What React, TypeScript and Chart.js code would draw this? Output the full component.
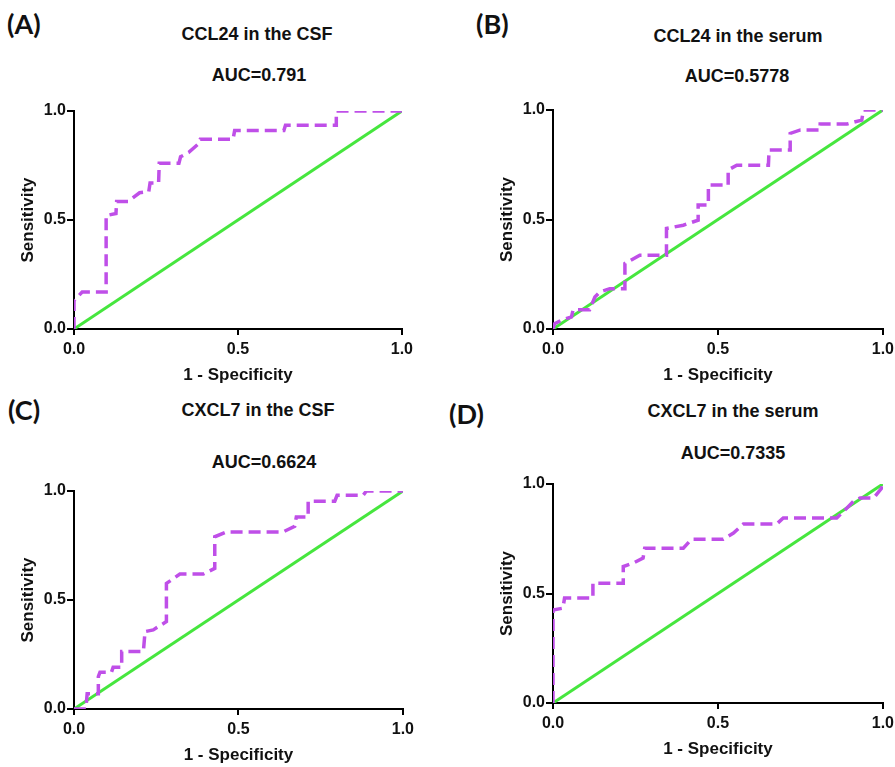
import React, { useEffect, useRef } from "react";
import { Chart, registerables } from "chart.js";

Chart.register(...registerables);

// ---- Data (1 - Specificity, Sensitivity) ----
const ccl24CsfFpr = [0, 0, 0.025, 0.098, 0.098, 0.128, 0.13, 0.165, 0.2, 0.228, 0.232, 0.258, 0.26, 0.32, 0.325, 0.35, 0.38, 0.385, 0.485, 0.49, 0.64, 0.645, 0.8, 0.8, 1];
const ccl24CsfTpr = [0, 0.13, 0.17, 0.17, 0.52, 0.53, 0.585, 0.585, 0.625, 0.63, 0.67, 0.67, 0.76, 0.76, 0.79, 0.81, 0.85, 0.87, 0.87, 0.91, 0.91, 0.935, 0.935, 1, 1];

const ccl24SerumFpr = [0, 0.005, 0.025, 0.056, 0.061, 0.111, 0.127, 0.142, 0.172, 0.218, 0.218, 0.263, 0.344, 0.344, 0.395, 0.44, 0.44, 0.471, 0.471, 0.531, 0.531, 0.557, 0.653, 0.655, 0.719, 0.719, 0.75, 0.81, 0.81, 0.891, 0.936, 0.941, 1];
const ccl24SerumTpr = [0, 0.024, 0.04, 0.055, 0.088, 0.088, 0.146, 0.169, 0.184, 0.184, 0.299, 0.337, 0.337, 0.459, 0.474, 0.497, 0.566, 0.566, 0.657, 0.657, 0.726, 0.748, 0.748, 0.817, 0.817, 0.893, 0.909, 0.909, 0.936, 0.936, 0.954, 1, 1];

const cxcl7CsfFpr = [0, 0.036, 0.04, 0.074, 0.074, 0.079, 0.114, 0.119, 0.145, 0.145, 0.211, 0.216, 0.241, 0.281, 0.281, 0.322, 0.393, 0.428, 0.428, 0.464, 0.636, 0.671, 0.676, 0.712, 0.712, 0.793, 0.8, 0.879, 0.889, 1];
const cxcl7CsfTpr = [0, 0, 0.07, 0.07, 0.149, 0.169, 0.169, 0.191, 0.191, 0.264, 0.264, 0.355, 0.363, 0.401, 0.576, 0.619, 0.619, 0.645, 0.79, 0.8125, 0.8125, 0.838, 0.881, 0.881, 0.953, 0.953, 0.98, 0.98, 1, 1];

const cxcl7SerumFpr = [0, 0, 0.03, 0.035, 0.121, 0.121, 0.213, 0.213, 0.243, 0.273, 0.278, 0.395, 0.42, 0.516, 0.547, 0.577, 0.678, 0.698, 0.86, 0.881, 0.911, 0.931, 0.972, 0.997, 1];
const cxcl7SerumTpr = [0, 0.425, 0.433, 0.479, 0.479, 0.547, 0.547, 0.623, 0.639, 0.662, 0.707, 0.707, 0.748, 0.748, 0.776, 0.817, 0.817, 0.845, 0.845, 0.875, 0.921, 0.936, 0.936, 0.982, 1];

const referenceFpr = [0, 1];
const referenceTpr = [0, 1];

const axisTicks = [0, 0.5, 1];
const xAxisTitle = "1 - Specificity";
const yAxisTitle = "Sensitivity";

const panelLetters = ["(A)", "(B)", "(C)", "(D)"];
const panelTitles = ["CCL24 in the CSF", "CCL24 in the serum", "CXCL7 in the CSF", "CXCL7 in the serum"];
const panelAucs = ["AUC=0.791", "AUC=0.5778", "AUC=0.6624", "AUC=0.7335"];

const PURPLE = "#BF4FE8";
const GREEN = "#46E63E";
const FONT = "'Liberation Sans', Arial, sans-serif";

// layout: chart-area rectangles (left, top, right, bottom) in page pixels
const panels = [
  { fpr: ccl24CsfFpr, tpr: ccl24CsfTpr, area: [74, 111, 402, 329], letter: [7, 23], title: [257, 34], auc: [259, 75] },
  { fpr: ccl24SerumFpr, tpr: ccl24SerumTpr, area: [553, 110, 883, 329], letter: [476, 23], title: [738, 36], auc: [737, 76] },
  { fpr: cxcl7CsfFpr, tpr: cxcl7CsfTpr, area: [74, 491, 403, 709], letter: [8, 409], title: [258, 410], auc: [264, 462] },
  { fpr: cxcl7SerumFpr, tpr: cxcl7SerumTpr, area: [553, 484, 883, 703], letter: [449, 413], title: [733, 411], auc: [733, 453] },
];

const Y_AXIS_W = 74;
const X_AXIS_H = 62;
const PAD_TOP = 16;
const PAD_RIGHT = 16;

function RocPanel({ index }: { index: number }) {
  const ref = useRef<HTMLCanvasElement | null>(null);
  const p = panels[index];
  const [L, T, R, B] = p.area;
  const width = R - L + Y_AXIS_W + PAD_RIGHT;
  const height = B - T + PAD_TOP + X_AXIS_H;

  useEffect(() => {
    if (!ref.current) return;
    const curve = p.fpr.map((x, i) => ({ x, y: p.tpr[i] }));
    const diag = referenceFpr.map((x, i) => ({ x, y: referenceTpr[i] }));
    const tickFont = { family: FONT, weight: "bold" as const, size: 16 };
    const titleFont = { family: FONT, weight: "bold" as const, size: 17 };
    const chart = new Chart(ref.current, {
      type: "line",
      data: {
        datasets: [
          {
            data: curve,
            borderColor: PURPLE,
            borderWidth: 3.5,
            borderDash: [12, 6],
            borderCapStyle: "butt",
            pointRadius: 0,
            fill: false,
            tension: 0,
          },
          {
            data: diag,
            borderColor: GREEN,
            borderWidth: 3,
            pointRadius: 0,
            fill: false,
            tension: 0,
          },
        ],
      },
      options: {
        animation: false,
        responsive: false,
        devicePixelRatio: 1,
        events: [],
        layout: { padding: { top: PAD_TOP, right: PAD_RIGHT, left: 0, bottom: 0 } },
        plugins: { legend: { display: false }, tooltip: { enabled: false }, title: { display: false } },
        scales: {
          x: {
            type: "linear",
            min: 0,
            max: 1,
            afterFit: (s: any) => {
              s.height = X_AXIS_H;
            },
            afterBuildTicks: (s: any) => {
              s.ticks = axisTicks.map((v) => ({ value: v }));
            },
            ticks: {
              color: "#111",
              font: tickFont,
              padding: 5,
              maxRotation: 0,
              callback: (v: any) => Number(v).toFixed(1),
            },
            grid: { display: true, drawOnChartArea: false, drawTicks: true, tickLength: 6, color: "#000", lineWidth: 2 },
            border: { display: true, color: "#000", width: 2 },
            title: { display: true, text: xAxisTitle, color: "#111", font: titleFont, padding: { top: 0, bottom: 5 } },
          },
          y: {
            type: "linear",
            min: 0,
            max: 1,
            afterFit: (s: any) => {
              s.width = Y_AXIS_W;
            },
            afterBuildTicks: (s: any) => {
              s.ticks = axisTicks.map((v) => ({ value: v }));
            },
            ticks: {
              color: "#111",
              font: tickFont,
              padding: 1,
              callback: (v: any) => Number(v).toFixed(1),
            },
            grid: { display: true, drawOnChartArea: false, drawTicks: true, tickLength: 7, color: "#000", lineWidth: 2 },
            border: { display: true, color: "#000", width: 2 },
            title: { display: true, text: yAxisTitle, color: "#111", font: titleFont, padding: { top: 18, bottom: 0 } },
          },
        },
      },
    } as any);
    return () => chart.destroy();
  }, [index]);

  const textStyle: React.CSSProperties = {
    position: "absolute",
    transform: "translate(-50%, -50%)",
    font: `bold 18px ${FONT}`,
    lineHeight: 1,
    whiteSpace: "nowrap",
    color: "#111",
  };

  return (
    <>
      <div
        style={{
          position: "absolute",
          left: p.letter[0],
          top: p.letter[1],
          transform: "translateY(-50%)",
          font: "bold 27px Lato, 'Liberation Sans', sans-serif",
          lineHeight: 1,
          color: "#111",
          whiteSpace: "nowrap",
        }}
      >
        {panelLetters[index]}
      </div>
      <div style={{ ...textStyle, left: p.title[0], top: p.title[1] }}>{panelTitles[index]}</div>
      <div style={{ ...textStyle, left: p.auc[0], top: p.auc[1] }}>{panelAucs[index]}</div>
      <canvas
        ref={ref}
        width={width}
        height={height}
        style={{ position: "absolute", left: L - Y_AXIS_W, top: T - PAD_TOP, width, height }}
      />
    </>
  );
}

export default function App() {
  return (
    <div
      style={{
        position: "absolute",
        left: 0,
        top: 0,
        width: 895,
        height: 767,
        overflow: "hidden",
        background: "#fff",
      }}
    >
      {panels.map((_, i) => (
        <RocPanel key={i} index={i} />
      ))}
    </div>
  );
}
